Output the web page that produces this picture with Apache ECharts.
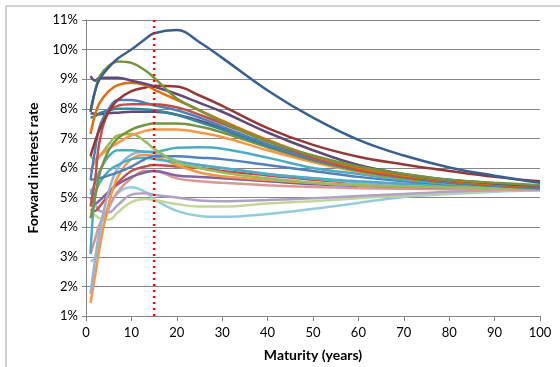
<!DOCTYPE html>
<html>
<head>
<meta charset="utf-8">
<script src="https://cdn.jsdelivr.net/npm/echarts@6/dist/echarts.min.js"></script>
<style>
  html, body { margin: 0; padding: 0; background: #fff; }
  #chart { width: 560px; height: 367px; }
</style>
</head>
<body>
<div id="chart"></div>
<script>
// 期限（年）
var maturities = [1, 2, 3, 5, 7, 10, 13, 15, 20, 25, 30, 40, 50, 60, 70, 80, 90, 100];
var yTicks = [1, 2, 3, 4, 5, 6, 7, 8, 9, 10, 11];
var cutoffMaturity = 15;

// 远期利率曲线（%）
var c01 = [7.9, 8.6, 9.0, 9.4, 9.7, 10.0, 10.35, 10.55, 10.66, 10.25, 9.72, 8.62, 7.7, 6.95, 6.42, 6.02, 5.74, 5.5];
var c02 = [7.9, 8.6, 9.1, 9.45, 9.6, 9.55, 9.3, 9.05, 8.35, 7.95, 7.55, 6.9, 6.42, 6.05, 5.8, 5.6, 5.5, 5.42];
var c03 = [9.1, 8.95, 9.05, 9.05, 9.05, 8.95, 8.85, 8.75, 8.5, 8.2, 7.9, 7.2, 6.6, 6.1, 5.8, 5.6, 5.48, 5.4];
var c04 = [7.15, 7.8, 8.2, 8.6, 8.8, 8.88, 8.8, 8.65, 8.3, 7.95, 7.6, 6.95, 6.4, 6.0, 5.75, 5.58, 5.45, 5.38];
var c05 = [6.4, 6.9, 7.3, 7.9, 8.3, 8.6, 8.72, 8.78, 8.75, 8.45, 8.1, 7.35, 6.78, 6.38, 6.12, 5.9, 5.7, 5.55];
var c06 = [4.7, 5.6, 6.9, 7.9, 8.1, 8.15, 8.15, 8.15, 8.05, 7.8, 7.5, 6.9, 6.35, 5.95, 5.7, 5.55, 5.43, 5.35];
var c07 = [5.6, 6.6, 7.4, 8.0, 8.3, 8.3, 8.2, 8.12, 7.95, 7.7, 7.4, 6.8, 6.3, 5.95, 5.7, 5.52, 5.42, 5.35];
var c08 = [7.7, 7.75, 7.85, 7.95, 8.0, 8.0, 7.98, 7.95, 7.8, 7.55, 7.3, 6.75, 6.3, 5.95, 5.7, 5.52, 5.4, 5.32];
var c09 = [7.85, 7.83, 7.82, 7.85, 7.87, 7.9, 7.9, 7.9, 7.8, 7.6, 7.35, 6.8, 6.3, 5.95, 5.7, 5.52, 5.42, 5.35];
var c10 = [4.3, 5.0, 5.8, 6.6, 7.0, 7.3, 7.45, 7.5, 7.5, 7.4, 7.2, 6.7, 6.25, 5.9, 5.65, 5.5, 5.4, 5.32];
var c11 = [5.9, 6.2, 6.4, 6.65, 6.85, 7.1, 7.25, 7.3, 7.3, 7.2, 7.05, 6.6, 6.2, 5.87, 5.65, 5.5, 5.4, 5.33];
var c12 = [6.4, 6.3, 6.4, 6.8, 7.1, 7.15, 6.9, 6.65, 6.2, 6.0, 5.85, 5.65, 5.5, 5.42, 5.38, 5.35, 5.33, 5.3];
var c13 = [5.1, 5.5, 5.9, 6.4, 6.6, 6.6, 6.55, 6.55, 6.68, 6.7, 6.65, 6.35, 6.0, 5.8, 5.6, 5.47, 5.38, 5.3];
var c14 = [5.6, 5.62, 5.65, 5.75, 5.85, 6.05, 6.3, 6.4, 6.4, 6.35, 6.3, 6.1, 5.9, 5.7, 5.55, 5.45, 5.37, 5.3];
var c15 = [1.75, 2.9, 3.9, 5.2, 6.0, 6.45, 6.55, 6.5, 6.25, 6.1, 6.0, 5.8, 5.65, 5.5, 5.42, 5.36, 5.32, 5.28];
var c16 = [1.45, 2.35, 3.3, 4.8, 5.7, 6.3, 6.45, 6.4, 6.1, 5.85, 5.72, 5.6, 5.5, 5.42, 5.38, 5.35, 5.32, 5.3];
var c17 = [2.85, 2.95, 3.6, 4.6, 5.15, 5.35, 5.2, 4.95, 4.55, 4.38, 4.35, 4.45, 4.62, 4.82, 5.02, 5.12, 5.2, 5.25];
var c18 = [4.5, 4.4, 4.3, 4.25, 4.5, 4.85, 4.95, 4.92, 4.78, 4.7, 4.7, 4.8, 4.88, 4.98, 5.07, 5.15, 5.22, 5.27];
var c19 = [5.3, 4.8, 4.55, 4.5, 4.75, 5.1, 5.15, 5.1, 5.0, 4.9, 4.88, 4.92, 4.98, 5.05, 5.12, 5.2, 5.25, 5.3];
var c20 = [5.0, 4.8, 4.9, 5.2, 5.45, 5.7, 5.85, 5.9, 5.75, 5.7, 5.65, 5.55, 5.45, 5.4, 5.37, 5.35, 5.33, 5.3];
var c21 = [3.1, 3.6, 4.1, 4.7, 5.2, 5.65, 5.9, 5.9, 5.65, 5.55, 5.5, 5.42, 5.36, 5.32, 5.3, 5.28, 5.26, 5.25];
var c22 = [4.6, 4.55, 4.7, 5.1, 5.5, 5.9, 6.05, 6.1, 6.05, 6.0, 5.9, 5.75, 5.6, 5.5, 5.45, 5.4, 5.37, 5.35];
var c23 = [3.1, 5.1, 5.5, 5.9, 6.1, 6.3, 6.35, 6.3, 6.2, 6.1, 6.0, 5.8, 5.65, 5.55, 5.47, 5.4, 5.35, 5.3];

var curves = [c17, c18, c19, c21, c20, c22, c16, c15, c23, c14, c13, c12, c11, c10, c09, c08, c07, c06, c05, c04, c03, c02, c01];
// 颜色（仿 Excel 2007 配色）
var colors = ['#93CDDD', '#C3D69B', '#B2A1C7', '#D99694', '#8064A2', '#C0504D', '#F79646', '#95B3D7', '#4BACC6',
  '#4F81BD', '#4BACC6', '#9BBB59', '#F79646', '#77933C', '#604A7B', '#31859C', '#4F81BD', '#C0504D', '#953735',
  '#E46C0A', '#604A7B', '#77933C', '#376092'];

(function () {
  var myChart = echarts.init(document.getElementById('chart'));
  var font = 'Lato, "Liberation Sans", sans-serif';

  var series = curves.map(function (vals, i) {
    return {
      type: 'line',
      smooth: 0.4,
      symbol: 'none',
      data: maturities.map(function (m, j) { return [m, vals[j]]; }),
      lineStyle: { width: 2.5, color: colors[i] },
      itemStyle: { color: colors[i] },
      z: 2
    };
  });
  // 红色虚线 15 年
  series.push({
    type: 'line',
    symbol: 'none',
    data: [[cutoffMaturity, yTicks[0]], [cutoffMaturity, yTicks[yTicks.length - 1]]],
    lineStyle: { width: 2.5, color: '#FF0000', type: [2, 4] },
    z: 5
  });

  var option = {
    animation: false,
    grid: { left: 86, right: 20, top: 20, bottom: 51 },
    graphic: [{
      type: 'rect',
      shape: { x: 6, y: 6, width: 600, height: 400 },
      style: { fill: 'none', stroke: '#A6A6A6', lineWidth: 1 }
    }],
    xAxis: {
      type: 'value',
      min: 0,
      max: 100,
      interval: 10,
      name: 'Maturity (years)',
      nameLocation: 'middle',
      nameGap: 32,
      nameTextStyle: { fontFamily: font, fontWeight: 'bold', fontSize: 14, color: '#000' },
      axisLine: { lineStyle: { color: '#868686', width: 1 } },
      axisTick: { show: true, length: 5, lineStyle: { color: '#868686' } },
      axisLabel: { fontFamily: font, fontSize: 13, color: '#000', margin: 10 },
      splitLine: { show: false }
    },
    yAxis: {
      type: 'value',
      min: yTicks[0],
      max: yTicks[yTicks.length - 1],
      interval: 1,
      name: 'Forward interest rate',
      nameLocation: 'middle',
      nameGap: 46,
      nameTextStyle: { fontFamily: font, fontWeight: 'bold', fontSize: 14, color: '#000' },
      axisLine: { show: true, lineStyle: { color: '#868686', width: 1 } },
      axisTick: { show: true, length: 4, lineStyle: { color: '#868686' } },
      axisLabel: { fontFamily: font, fontSize: 13, color: '#000', margin: 8, formatter: '{value}%' },
      splitLine: { show: true, lineStyle: { color: '#868686', width: 1 } }
    },
    series: series
  };
  myChart.setOption(option);
})();
</script>
</body>
</html>
